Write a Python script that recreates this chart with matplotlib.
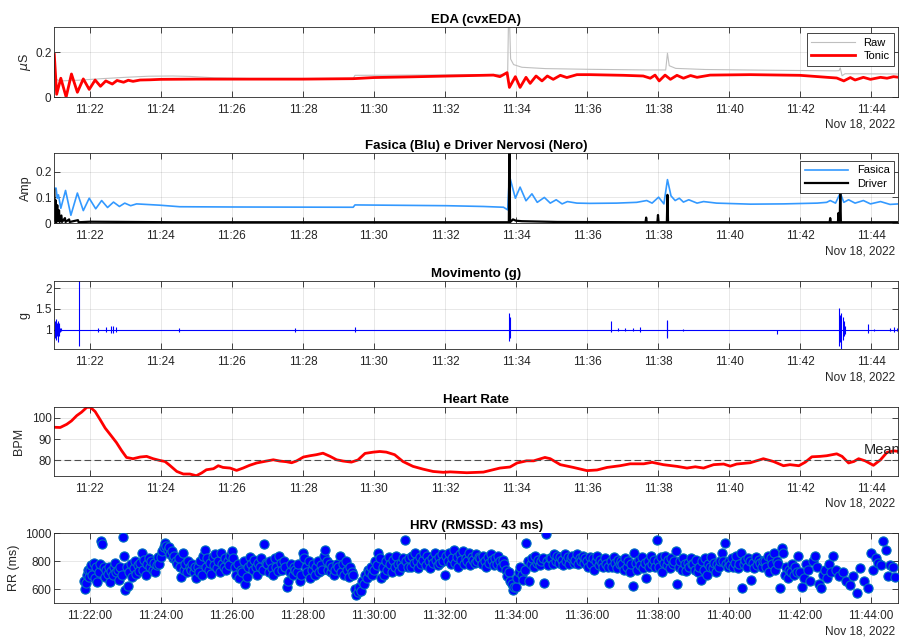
import numpy as np
import matplotlib
matplotlib.use("Agg")
from matplotlib import pyplot as plt
import matplotlib.dates as mdates
from matplotlib.ticker import FormatStrFormatter

plt.rcParams["font.family"] = ["Liberation Sans", "DejaVu Sans"]

T0 = np.datetime64("2022-11-18T11:21:00")
T_END = 1426  # seconds after T0 (11:44:46)
DATE_LABEL = "Nov 18, 2022"

# EDA (seconds after 11:21:00, microsiemens)
raw_t = [0, 2, 10, 40, 80, 120, 160, 200, 230, 270, 330, 505, 508, 600, 700, 766, 768, 771, 776, 790,
         830, 900, 1000, 1033, 1036, 1039, 1050, 1100, 1200, 1320, 1326, 1328, 1331, 1336, 1427]
raw_v = [0.19, 0.08, 0.072, 0.075, 0.082, 0.088, 0.093, 0.094, 0.092, 0.086, 0.083, 0.083, 0.097, 0.098,
         0.100, 0.101, 0.45, 0.17, 0.145, 0.133, 0.127, 0.124, 0.121, 0.121, 0.196, 0.14, 0.128, 0.123,
         0.120, 0.117, 0.118, 0.13, 0.095, 0.104, 0.103]
tonic_t = [0, 4, 11, 20, 29, 39, 49, 59, 69, 78, 87, 98, 106, 117, 125, 133, 145, 162, 180, 240,
           300, 420, 505, 540, 600, 669, 742, 753, 765, 769, 779, 787, 797, 804, 814, 824, 833, 843, 855, 866,
           883, 905, 962, 995, 1007, 1015, 1022, 1032, 1041, 1052, 1063, 1075, 1086, 1108, 1176, 1260, 1306,
           1322, 1334, 1345, 1353, 1367, 1379, 1396, 1407, 1418, 1427]
tonic_v = [0.19, 0.012, 0.084, 0.0, 0.103, 0.021, 0.081, 0.034, 0.076, 0.048, 0.072, 0.058, 0.074, 0.066,
           0.075, 0.070, 0.076, 0.077, 0.079, 0.080, 0.080, 0.080, 0.082, 0.087, 0.090, 0.094, 0.098, 0.091,
           0.109, 0.043, 0.091, 0.043, 0.088, 0.061, 0.094, 0.072, 0.094, 0.079, 0.097, 0.087, 0.100, 0.100,
           0.097, 0.094, 0.084, 0.098, 0.072, 0.098, 0.079, 0.097, 0.084, 0.096, 0.088, 0.098, 0.100, 0.097,
           0.088, 0.085, 0.072, 0.087, 0.076, 0.088, 0.079, 0.088, 0.084, 0.091, 0.088]

# phasic component and neural driver
phasic_t = [0, 3, 5, 7, 11, 19, 28, 39, 49, 59, 70, 80, 90, 100, 110, 119, 129, 139, 178, 212,
            302, 505, 508, 663, 725, 759, 766, 769, 779, 787, 797, 807, 816, 828, 838, 848, 858, 867, 883, 905,
            950, 984, 1001, 1010, 1021, 1030, 1036, 1042, 1049, 1056, 1063, 1072, 1086, 1097, 1119, 1176,
            1232, 1289, 1305, 1311, 1320, 1328, 1334, 1342, 1353, 1367, 1379, 1396, 1412, 1427]
phasic_v = [0.136, 0.136, 0.097, 0.110, 0.058, 0.127, 0.031, 0.117, 0.049, 0.097, 0.056, 0.088, 0.061,
            0.082, 0.065, 0.078, 0.068, 0.075, 0.070, 0.064, 0.063, 0.062, 0.071, 0.068, 0.065, 0.062, 0.052,
            0.184, 0.097, 0.140, 0.087, 0.114, 0.081, 0.100, 0.078, 0.091, 0.075, 0.084, 0.078, 0.077, 0.078,
            0.081, 0.088, 0.078, 0.101, 0.075, 0.169, 0.106, 0.088, 0.097, 0.082, 0.091, 0.078, 0.084, 0.078,
            0.074, 0.075, 0.078, 0.081, 0.088, 0.078, 0.117, 0.081, 0.091, 0.078, 0.088, 0.075, 0.084, 0.073,
            0.075]
driver_t = [0, 1, 2, 3, 5, 6, 8, 9, 12, 13, 18, 19, 25, 26, 40, 41, 60, 200, 500, 768,
            769, 770, 775, 780, 790, 850, 999, 1000, 1001, 1019, 1020, 1021, 1035, 1036, 1037, 1310, 1311,
            1312, 1324, 1325, 1326, 1327, 1328, 1329, 1427]
driver_v = [0.13, 0.01, 0.09, 0.0, 0.07, 0.01, 0.05, 0.005, 0.03, 0.005, 0.02, 0.005, 0.015, 0.005,
            0.012, 0.004, 0.006, 0.004, 0.004, 0.004, 0.40, 0.004, 0.015, 0.01, 0.008, 0.005, 0.004, 0.022,
            0.004, 0.004, 0.032, 0.004, 0.004, 0.11, 0.004, 0.004, 0.02, 0.004, 0.004, 0.04, 0.004, 0.004,
            0.13, 0.004, 0.004]

# movement: baseline 1 g plus bursts (time, low, high)
mov_base = 1.0
mov_t = [0.5, 1.5, 2.5, 3.5, 4.5, 5.5, 6.5, 7.5, 8.5, 9.5, 11, 42, 74, 88, 95, 100, 105, 211, 406, 508,
         769, 770, 941, 952, 965, 978, 990, 1035, 1036, 1063, 1221, 1326, 1328, 1330, 1332, 1334, 1336,
         1374, 1385, 1412, 1418, 1424]
mov_lo = [0.85, 0.80, 0.88, 0.75, 0.85, 0.70, 0.90, 0.85, 0.92, 0.95, 0.97, 0.61, 0.95, 0.94, 0.93, 0.92,
          0.94, 0.95, 0.95, 0.94, 0.73, 0.80, 0.95, 0.97, 0.97, 0.97, 0.95, 0.82, 0.81, 0.98, 0.89, 0.60,
          0.70, 0.45, 0.75, 0.85, 0.90, 0.93, 0.98, 0.96, 0.95, 0.96]
mov_hi = [1.12, 1.20, 1.18, 1.25, 1.15, 1.22, 1.10, 1.15, 1.08, 1.05, 1.03, 2.30, 1.05, 1.06, 1.08, 1.09,
          1.06, 1.05, 1.05, 1.06, 1.40, 1.30, 1.22, 1.03, 1.03, 1.03, 1.06, 1.20, 1.23, 1.02, 1.00, 1.52,
          1.35, 1.40, 1.30, 1.20, 1.10, 1.13, 1.02, 1.05, 1.06, 1.05]

# heart rate
hr_t = [0, 10, 21, 29, 38, 46, 55, 61, 69, 77, 86, 95, 105, 114, 122, 133, 145, 156, 167, 178,
        187, 195, 207, 218, 229, 240, 249, 257, 269, 277, 285, 297, 308, 319, 330, 342, 353, 370, 381, 392,
        401, 409, 421, 432, 443, 454, 466, 477, 488, 502, 513, 525, 539, 550, 561, 575, 589, 606, 623, 640,
        657, 669, 697, 725, 753, 770, 782, 798, 810, 829, 838, 855, 877, 900, 917, 934, 956, 973, 996, 1010,
        1029, 1052, 1069, 1083, 1097, 1114, 1131, 1142, 1153, 1176, 1198, 1215, 1232, 1243, 1258, 1269,
        1280, 1294, 1305, 1322, 1331, 1342, 1351, 1359, 1370, 1384, 1396, 1407, 1418, 1428]
hr_v = [95.6, 95.5, 97.0, 98.6, 101.1, 102.7, 105.0, 105.0, 103.0, 99.4, 95.2, 92.0, 88.4, 84.5, 81.4,
        80.8, 81.6, 81.9, 80.8, 80.0, 79.5, 77.7, 74.8, 73.6, 73.6, 72.8, 74.1, 75.6, 76.1, 77.5, 76.7, 76.4,
        75.3, 76.4, 77.7, 78.8, 79.4, 80.3, 79.7, 79.4, 78.9, 79.7, 81.6, 82.2, 82.7, 83.4, 81.9, 80.3, 79.7,
        79.2, 80.2, 83.3, 83.9, 84.2, 83.9, 82.7, 79.5, 77.2, 75.9, 74.8, 74.4, 74.6, 74.2, 74.5, 76.4, 76.9,
        78.8, 79.8, 79.8, 81.4, 80.8, 78.0, 76.7, 75.2, 75.5, 76.7, 77.5, 78.4, 78.4, 79.1, 78.0, 77.2, 76.4,
        77.0, 76.4, 78.0, 78.3, 77.3, 78.3, 78.9, 80.8, 79.5, 77.5, 78.0, 77.5, 79.2, 81.7, 81.9, 82.2, 83.1,
        81.9, 78.8, 79.5, 80.8, 79.8, 77.7, 80.3, 83.8, 84.5, 84.2]
hr_mean = 80.0

# RR intervals (ms), grouped in blocks of time
rr_block_start = ["11:21:50", "11:22:00", "11:23:00", "11:24:00", "11:25:00", "11:26:00", "11:27:00",
                  "11:28:00", "11:29:00", "11:30:00", "11:31:00", "11:32:00", "11:33:00", "11:34:00",
                  "11:35:00", "11:36:00", "11:37:00", "11:38:00", "11:39:00", "11:40:00", "11:41:00",
                  "11:42:00", "11:43:00", "11:44:00"]
rr_last_beat = "11:44:45"
rr_blocks = [
    [660, 600, 645, 700, 735, 690],
    [740, 770, 700, 790, 680, 760, 650, 720, 780, 944, 927, 760, 690, 740, 710, 760, 655, 730, 700, 760,
     790, 720, 740, 670, 760, 700, 975, 836],
    [597, 760, 625, 720, 780, 690, 750, 800, 710, 770, 730, 790, 860, 740, 810, 700, 780, 820, 760, 800,
     740, 790, 720, 770, 830, 780],
    [830, 870, 900, 932, 910, 880, 900, 850, 870, 820, 840, 800, 780, 820, 760, 690, 860, 740, 780, 720,
     800, 760, 740, 780, 720, 760],
    [680, 760, 720, 800, 700, 840, 884, 760, 820, 740, 790, 710, 830, 770, 850, 750, 800, 720, 860, 780,
     760, 820, 740, 800, 770, 840],
    [870, 820, 760, 700, 780, 680, 740, 720, 800, 640, 690, 760, 830, 780, 740, 810, 760, 700, 790, 760,
     820, 740, 927, 790],
    [780, 720, 800, 750, 700, 820, 760, 730, 840, 790, 740, 800, 760, 620, 660, 720, 780, 700, 760, 740,
     720, 780, 656, 700],
    [860, 824, 760, 720, 800, 680, 740, 780, 700, 760, 800, 720, 770, 740, 840, 884, 800, 740, 780, 720,
     760, 700, 740, 780],
    [760, 836, 720, 780, 700, 800, 740, 690, 760, 720, 700, 600, 560, 580, 620, 590, 660, 640, 700, 680,
     740, 720, 760, 700],
    [740, 800, 770, 860, 820, 680, 760, 700, 800, 740, 830, 780, 720, 810, 760, 840, 780, 730, 790, 760,
     820, 955, 800, 760],
    [820, 760, 840, 790, 860, 800, 750, 830, 780, 810, 860, 770, 840, 800, 750, 820, 790, 860, 810, 770,
     830, 790, 850, 800],
    [704, 840, 800, 860, 780, 820, 884, 790, 830, 760, 850, 810, 870, 780, 820, 800, 860, 770, 830, 810,
     790, 850, 800, 830],
    [820, 780, 840, 800, 760, 830, 790, 850, 810, 770, 820, 780, 840, 800, 760, 810, 780, 740, 692, 720,
     660, 640, 596, 620],
    [620, 680, 720, 760, 700, 668, 740, 932, 800, 656, 780, 820, 760, 840, 790, 810, 770, 800, 820, 644,
     992, 800, 770, 820],
    [820, 780, 850, 800, 840, 790, 830, 810, 770, 850, 800, 830, 780, 820, 840, 790, 810, 850, 780, 820,
     800, 840, 790, 820],
    [800, 760, 830, 780, 820, 740, 800, 840, 770, 810, 790, 760, 820, 780, 760, 644, 800, 760, 830, 790,
     750, 810, 780, 800],
    [780, 740, 820, 760, 800, 720, 780, 625, 860, 790, 740, 810, 770, 830, 750, 790, 680, 800, 760, 840,
     780, 810, 760, 955],
    [800, 760, 830, 720, 790, 840, 770, 810, 750, 820, 780, 800, 870, 640, 760, 800, 740, 820, 780, 730,
     790, 760, 820, 780],
    [780, 740, 810, 720, 760, 668, 800, 740, 820, 700, 780, 760, 830, 750, 790, 720, 780, 760, 800, 860,
     800, 932, 780, 760],
    [800, 770, 820, 760, 790, 840, 750, 780, 860, 608, 780, 810, 760, 820, 800, 668, 790, 750, 830, 770,
     810, 790, 760, 800],
    [800, 760, 840, 720, 820, 780, 860, 740, 800, 780, 608, 896, 860, 700, 760, 680, 740, 720, 780, 700,
     760, 720, 836],
    [720, 620, 680, 780, 740, 660, 800, 836, 760, 640, 608, 700, 740, 680, 780, 720, 840],
    [740, 692, 720, 656, 632, 692, 577, 752, 656, 608],
    [860, 740, 824, 790, 770, 944, 884, 692, 776, 760, 690],
]

DARK = (0.15, 0.15, 0.15)


def at(sec):
    ms = np.round(np.asarray(sec, dtype=float) * 1000).astype("timedelta64[ms]")
    return T0 + ms


def clock(s):
    return np.datetime64("2022-11-18T" + s)


def rr_points():
    starts = [clock(s) for s in rr_block_start] + [clock(rr_last_beat)]
    xs, ys = [], []
    for i, vals in enumerate(rr_blocks):
        a = (starts[i] - T0) / np.timedelta64(1, "s")
        b = (starts[i + 1] - T0) / np.timedelta64(1, "s")
        xs.append(at(np.linspace(a, b, len(vals), endpoint=False)))
        ys.extend(vals)
    return np.concatenate(xs), np.array(ys)


def style_axes(ax, title, ylabel, yticks, ylim, label_x, fmt="%H:%M"):
    ax.set_xlim(at(0), at(T_END))
    ax.set_ylim(*ylim)
    ax.set_yticks(yticks)
    ax.yaxis.set_major_formatter(FormatStrFormatter("%g"))
    ax.xaxis.set_major_locator(mdates.MinuteLocator(byminute=range(22, 46, 2)))
    ax.xaxis.set_major_formatter(mdates.DateFormatter(fmt))
    ax.tick_params(direction="in", top=True, right=True, length=4, width=0.6,
                   colors=DARK, labelsize=8.5)
    ax.tick_params(axis="x", pad=5)
    ax.tick_params(axis="y", pad=2)
    for sp in ax.spines.values():
        sp.set_color(DARK)
        sp.set_linewidth(0.6)
    ax.grid(True, color=DARK, alpha=0.15, linewidth=0.5)
    ax.set_title(title, fontsize=9.5, fontweight="bold", pad=3, color="black")
    ax.set_ylabel(ylabel, fontsize=9, color=DARK)
    ax.yaxis.set_label_coords(label_x, 0.5)
    ax.annotate(DATE_LABEL, xy=(1, 0), xycoords="axes fraction", xytext=(-2, -20),
                textcoords="offset points", ha="right", va="center", fontsize=8.5, color=DARK)


def legend(ax, top):
    leg = ax.legend(loc="upper right", bbox_to_anchor=(0.995, top), borderaxespad=0,
                    fontsize=8, fancybox=False, framealpha=1, edgecolor=DARK,
                    handlelength=3.9, borderpad=0.4, labelspacing=0.3, handletextpad=0.8)
    leg.get_frame().set_linewidth(0.6)


fig = plt.figure(figsize=(8.99, 6.37), dpi=100)
left, width = 0.0604, 0.9388
bottoms = [0.8477, 0.6495, 0.4516, 0.2532, 0.0529]
heights = [0.1099, 0.1099, 0.1077, 0.1074, 0.1099]
axs = [fig.add_axes([left, b, width, h]) for b, h in zip(bottoms, heights)]

# EDA
ax = axs[0]
ax.plot(at(raw_t), raw_v, color=(0.75, 0.75, 0.75), lw=0.8, label="Raw")
ax.plot(at(tonic_t), tonic_v, color="red", lw=2, label="Tonic")
style_axes(ax, "EDA (cvxEDA)", r"$\mu$S", [0, 0.2], (0, 0.313), -0.025)
legend(ax, 0.91)

# phasic / driver
ax = axs[1]
ax.plot(at(phasic_t), phasic_v, color=(0.2, 0.6, 1.0), lw=1.2, label="Fasica")
ax.plot(at(driver_t), driver_v, color="black", lw=1.6, label="Driver")
style_axes(ax, "Fasica (Blu) e Driver Nervosi (Nero)", "Amp", [0, 0.1, 0.2], (0, 0.271), -0.026)
legend(ax, 0.89)

# movement
ax = axs[2]
ax.plot(at([0, T_END]), [mov_base, mov_base], color="blue", lw=0.8)
ax.vlines(at(mov_t), mov_lo, mov_hi, color="blue", lw=0.8)
style_axes(ax, "Movimento (g)", "g", [1, 1.5, 2], (0.527, 2.18), -0.028)

# heart rate
ax = axs[3]
ax.plot(at(hr_t), hr_v, color="red", lw=2)
ax.axhline(hr_mean, color=(0.3, 0.3, 0.3), lw=0.8, ls="--", dashes=(6, 3))
ax.text(at(1367), hr_mean + 5.0, "Mean", fontsize=10.5, color=DARK, ha="left", va="center",
        clip_on=False)
style_axes(ax, "Heart Rate", "BPM", [80, 90, 100], (min(hr_v), max(hr_v)), -0.035)

# HRV
ax = axs[4]
rx, ry = rr_points()
ax.scatter(rx, ry, s=44, facecolor="blue", edgecolor=(0, 0.447, 0.741), linewidths=0.8, zorder=3)
style_axes(ax, "HRV (RMSSD: 43 ms)", "RR (ms)", [600, 800, 1000], (500, 1000), -0.041,
           fmt="%H:%M:%S")

fig.savefig("out.png", dpi=100)
